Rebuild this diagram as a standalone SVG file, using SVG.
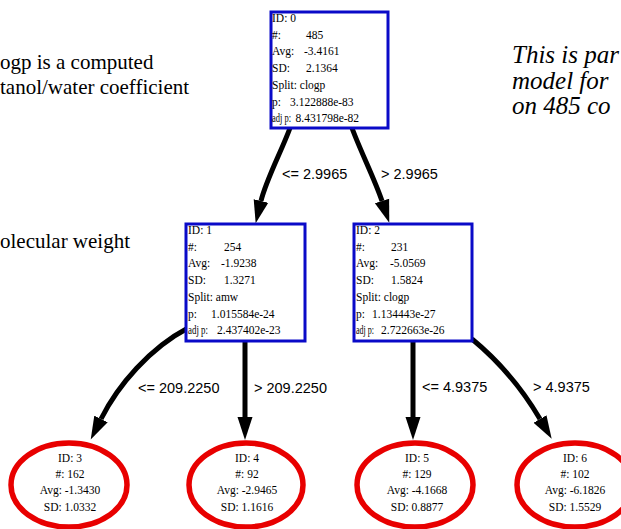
<svg xmlns="http://www.w3.org/2000/svg" width="621" height="529" viewBox="0 0 621 529">
<style>
.bg{fill:#ffffff}
.box{fill:#ffffff;stroke:#0a0ac8;stroke-width:3}
.leaf{fill:#ffffff;stroke:#e80000;stroke-width:5.5}
.nt{font-family:"Liberation Serif","Times New Roman",serif;font-size:11.5px;fill:#000}
.lt{font-family:"Liberation Serif","Times New Roman",serif;font-size:11.5px;fill:#000;text-anchor:middle}
.edge{fill:none;stroke:#000;stroke-width:5}
.el{font-family:"Liberation Sans",Arial,sans-serif;font-size:14.5px;fill:#000}
.note{font-family:"Liberation Serif","Times New Roman",serif;font-size:21px;fill:#000}
.notei{font-family:"Liberation Serif","Times New Roman",serif;font-size:25px;font-style:italic;fill:#000}
</style>
<defs>
<marker id="arr" markerUnits="userSpaceOnUse" markerWidth="24" markerHeight="16" refX="0" refY="8" orient="auto">
<path d="M0,0.5 L23,8 L0,15.5 Z" fill="#000"/>
</marker>
</defs>
<rect class="bg" x="0" y="0" width="621" height="529"/>

<g id="notes">
<text class="note" x="0" y="69">ogp is a computed</text>
<text class="note" x="0" y="94">tanol/water coefficient</text>
<text class="note" x="0" y="248">olecular weight</text>
<text class="notei" x="512" y="63">This is par</text>
<text class="notei" x="512" y="89">model for</text>
<text class="notei" x="512" y="114">on 485 co</text>
</g>

<g id="connectors">
<path class="edge" d="M290,128 C282,150 266,180 261,201" marker-end="url(#arr)"/>
<path class="edge" d="M352,128 C360,150 375,180 382,201" marker-end="url(#arr)"/>
<path class="edge" d="M188,328 C150,348 118,385 101,419" marker-end="url(#arr)"/>
<path class="edge" d="M245,341 L245,417" marker-end="url(#arr)"/>
<path class="edge" d="M413,341 L413,417" marker-end="url(#arr)"/>
<path class="edge" d="M472,339 C495,358 520,385 540,419" marker-end="url(#arr)"/>
<text class="el" x="282" y="179">&lt;= 2.9965</text>
<text class="el" x="381" y="179">&gt; 2.9965</text>
<text class="el" x="138" y="393">&lt;= 209.2250</text>
<text class="el" x="254" y="393">&gt; 209.2250</text>
<text class="el" x="422" y="392">&lt;= 4.9375</text>
<text class="el" x="533" y="392">&gt; 4.9375</text>
</g>

<g id="node0">
<rect class="box" x="271" y="12" width="117" height="116"/>
<text class="nt" x="272" y="22">ID: 0</text>
<text class="nt" y="38.7"><tspan x="272">#:</tspan><tspan x="306">485</tspan></text>
<text class="nt" y="55.4"><tspan x="272">Avg:</tspan><tspan x="304">-3.4161</tspan></text>
<text class="nt" y="72.1"><tspan x="272">SD:</tspan><tspan x="306">2.1364</tspan></text>
<text class="nt" x="272" y="88.8">Split: clogp</text>
<text class="nt" y="105.5"><tspan x="272">p:</tspan><tspan x="290">3.122888e-83</tspan></text>
<text class="nt" y="122.2"><tspan x="272" textLength="19" lengthAdjust="spacingAndGlyphs">adj p:</tspan><tspan x="295.5">8.431798e-82</tspan></text>
</g>

<g id="node1">
<rect class="box" x="186" y="224" width="119" height="117"/>
<text class="nt" x="188" y="234">ID: 1</text>
<text class="nt" y="250.7"><tspan x="188">#:</tspan><tspan x="224">254</tspan></text>
<text class="nt" y="267.4"><tspan x="188">Avg:</tspan><tspan x="221">-1.9238</tspan></text>
<text class="nt" y="284.1"><tspan x="188">SD:</tspan><tspan x="224">1.3271</tspan></text>
<text class="nt" x="188" y="300.8">Split: amw</text>
<text class="nt" y="317.5"><tspan x="188">p:</tspan><tspan x="211">1.015584e-24</tspan></text>
<text class="nt" y="334.2"><tspan x="188" textLength="20" lengthAdjust="spacingAndGlyphs">adj p:</tspan><tspan x="217">2.437402e-23</tspan></text>
</g>

<g id="node2">
<rect class="box" x="354" y="224" width="118" height="117"/>
<text class="nt" x="356" y="234">ID: 2</text>
<text class="nt" y="250.7"><tspan x="356">#:</tspan><tspan x="391">231</tspan></text>
<text class="nt" y="267.4"><tspan x="356">Avg:</tspan><tspan x="390">-5.0569</tspan></text>
<text class="nt" y="284.1"><tspan x="356">SD:</tspan><tspan x="391">1.5824</tspan></text>
<text class="nt" x="356" y="300.8">Split: clogp</text>
<text class="nt" y="317.5"><tspan x="356">p:</tspan><tspan x="372">1.134443e-27</tspan></text>
<text class="nt" y="334.2"><tspan x="356" textLength="18" lengthAdjust="spacingAndGlyphs">adj p:</tspan><tspan x="381">2.722663e-26</tspan></text>
</g>

<g id="node3">
<ellipse class="leaf" cx="69" cy="485" rx="58" ry="42"/>
<text class="lt" x="70" y="462">ID: 3</text>
<text class="lt" x="70" y="478">#: 162</text>
<text class="lt" x="70" y="494">Avg: -1.3430</text>
<text class="lt" x="70" y="511">SD: 1.0332</text>
</g>

<g id="node4">
<ellipse class="leaf" cx="246" cy="485" rx="57" ry="42"/>
<text class="lt" x="247" y="462">ID: 4</text>
<text class="lt" x="247" y="478">#: 92</text>
<text class="lt" x="247" y="494">Avg: -2.9465</text>
<text class="lt" x="247" y="511">SD: 1.1616</text>
</g>

<g id="node5">
<ellipse class="leaf" cx="415" cy="485" rx="58" ry="42"/>
<text class="lt" x="417" y="462">ID: 5</text>
<text class="lt" x="417" y="478">#: 129</text>
<text class="lt" x="417" y="494">Avg: -4.1668</text>
<text class="lt" x="417" y="511">SD: 0.8877</text>
</g>

<g id="node6">
<ellipse class="leaf" cx="575" cy="485" rx="58" ry="42"/>
<text class="lt" x="575" y="462">ID: 6</text>
<text class="lt" x="575" y="478">#: 102</text>
<text class="lt" x="575" y="494">Avg: -6.1826</text>
<text class="lt" x="575" y="511">SD: 1.5529</text>
</g>
</svg>
